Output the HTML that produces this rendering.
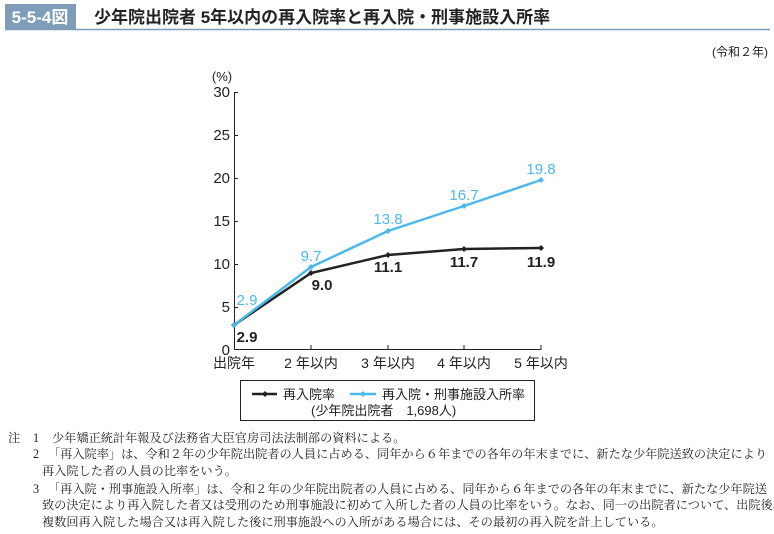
<!DOCTYPE html>
<html><head><meta charset="utf-8"><style>
body{margin:0;background:#fff;width:774px;height:534px;overflow:hidden}
svg{display:block}
.s{font-family:"Liberation Sans","Noto Sans CJK JP",sans-serif}
.m{font-family:"Liberation Serif","Noto Serif CJK SC",serif}
</style></head><body>
<svg width="774" height="534" class="s">
<rect x="5" y="4" width="71" height="25" fill="#7f9cb8"/>
<text x="40" y="23" font-size="17" font-weight="bold" fill="#fff" text-anchor="middle">5-5-4図</text>
<line x1="5" y1="29.5" x2="770" y2="29.5" stroke="#7f9cb8" stroke-width="1.5"/>
<text x="94" y="23" font-size="17" font-weight="bold" fill="#222">少年院出院者 5年以内の再入院率と再入院・刑事施設入所率</text>
<text x="768" y="56" font-size="12" fill="#222" text-anchor="end">(令和２年)</text>
<text x="222" y="81" font-size="13" fill="#222" text-anchor="middle">(%)</text>
<g font-size="15" fill="#222" text-anchor="end">
<text x="230" y="97">30</text><text x="230" y="140">25</text><text x="230" y="183">20</text>
<text x="230" y="226">15</text><text x="230" y="269">10</text><text x="230" y="312">5</text><text x="230" y="355">0</text>
</g>
<g stroke="#222" stroke-width="1" fill="none">
<line x1="234.5" y1="92" x2="234.5" y2="350"/>
<line x1="234" y1="349.5" x2="541" y2="349.5"/>
<line x1="234" y1="92.5" x2="238" y2="92.5"/><line x1="234" y1="135.5" x2="238" y2="135.5"/>
<line x1="234" y1="178.5" x2="238" y2="178.5"/><line x1="234" y1="221.5" x2="238" y2="221.5"/>
<line x1="234" y1="264.5" x2="238" y2="264.5"/><line x1="234" y1="307.5" x2="238" y2="307.5"/>
<line x1="311" y1="345" x2="311" y2="350"/><line x1="388" y1="345" x2="388" y2="350"/>
<line x1="464" y1="345" x2="464" y2="350"/><line x1="541" y1="345" x2="541" y2="350"/>
</g>
<g font-size="14" fill="#222" text-anchor="middle">
<text x="234" y="368">出院年</text><text x="311" y="368">2 年以内</text><text x="388" y="368">3 年以内</text>
<text x="464" y="368">4 年以内</text><text x="541" y="368">5 年以内</text>
</g>
<polyline points="234,325 311,273 388,255 464,249 541,248" fill="none" stroke="#222" stroke-width="2.5"/>
<polyline points="234,325 311,267 388,231 464,206 541,180" fill="none" stroke="#4cb9ec" stroke-width="2.5"/>
<g fill="#222"><path d="M234,322l3,3-3,3-3-3z"/><path d="M311,270l3,3-3,3-3-3z"/><path d="M388,252l3,3-3,3-3-3z"/><path d="M464,246l3,3-3,3-3-3z"/><path d="M541,245l3,3-3,3-3-3z"/></g>
<g fill="#4cb9ec"><path d="M234,322l3,3-3,3-3-3z"/><path d="M311,264l3,3-3,3-3-3z"/><path d="M388,228l3,3-3,3-3-3z"/><path d="M464,203l3,3-3,3-3-3z"/><path d="M541,177l3,3-3,3-3-3z"/></g>
<g font-size="15" fill="#4cb9ec" text-anchor="middle">
<text x="247" y="305">2.9</text><text x="311" y="261">9.7</text><text x="388" y="224">13.8</text>
<text x="464" y="200">16.7</text><text x="541" y="174">19.8</text>
</g>
<g font-size="15" fill="#222" text-anchor="middle" font-weight="bold">
<text x="247" y="342">2.9</text><text x="322" y="290">9.0</text><text x="388" y="272">11.1</text>
<text x="464" y="267">11.7</text><text x="541" y="267">11.9</text>
</g>
<rect x="240.5" y="380.5" width="294" height="40" fill="none" stroke="#222"/>
<line x1="252" y1="394" x2="277" y2="394" stroke="#222" stroke-width="2.5"/><path d="M265,391l3,3-3,3-3-3z" fill="#222"/>
<text x="283" y="399" font-size="13" fill="#222">再入院率</text>
<line x1="350" y1="394" x2="376" y2="394" stroke="#4cb9ec" stroke-width="2.5"/><path d="M363,391l3,3-3,3-3-3z" fill="#4cb9ec"/>
<text x="382" y="399" font-size="13" fill="#222">再入院・刑事施設入所率</text>
<text x="311" y="415" font-size="13" fill="#222">(少年院出院者　1,698人)</text>
<g class="m" font-size="12.2" fill="#222">
<text x="8" y="442">注</text><text x="33" y="442">1</text><text x="52" y="442">少年矯正統計年報及び法務省大臣官房司法法制部の資料による。</text>
<text x="33" y="458">2</text><text x="48" y="458">「再入院率」は、令和２年の少年院出院者の人員に占める、同年から６年までの各年の年末までに、新たな少年院送致の決定により</text>
<text x="42" y="475">再入院した者の人員の比率をいう。</text>
<text x="33" y="493">3</text><text x="48" y="493">「再入院・刑事施設入所率」は、令和２年の少年院出院者の人員に占める、同年から６年までの各年の年末までに、新たな少年院送</text>
<text x="42" y="509">致の決定により再入院した者又は受刑のため刑事施設に初めて入所した者の人員の比率をいう。なお、同一の出院者について、出院後、</text>
<text x="42" y="526">複数回再入院した場合又は再入院した後に刑事施設への入所がある場合には、その最初の再入院を計上している。</text>
</g>
</svg>
</body></html>
